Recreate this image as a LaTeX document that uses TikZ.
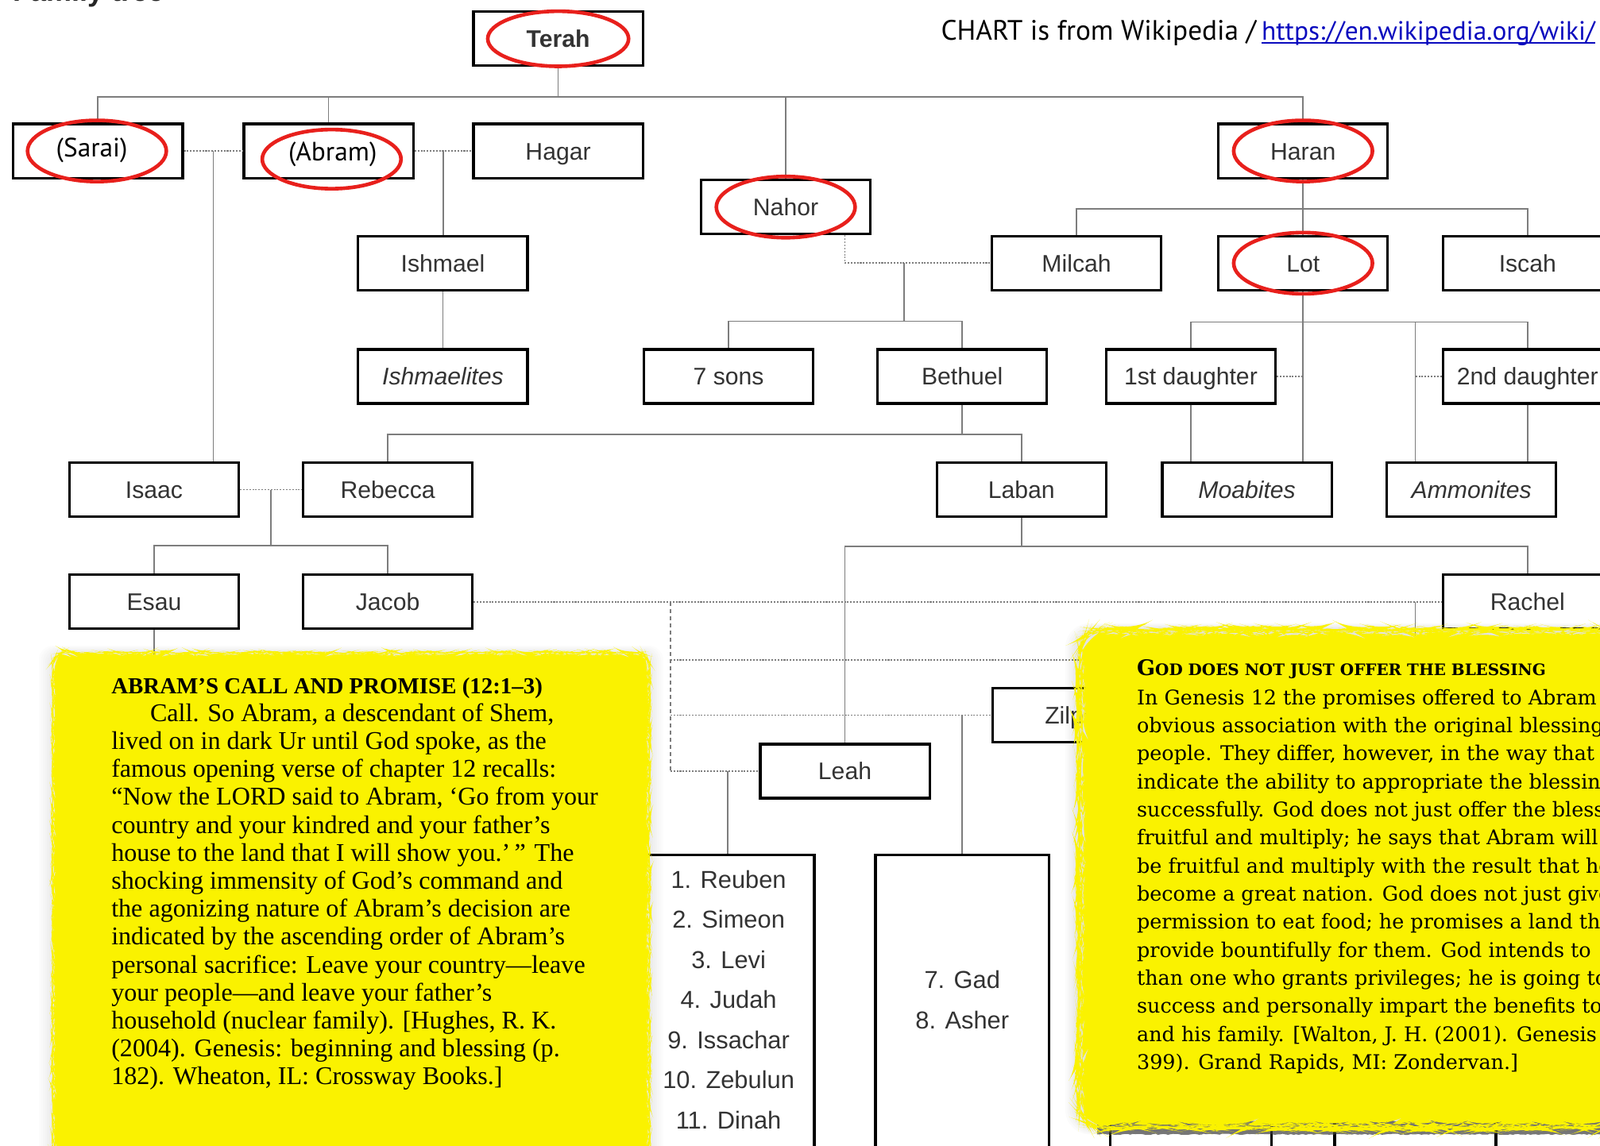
\documentclass[tikz,border=0pt]{standalone}
\usepackage{fontspec}
\setmainfont{Liberation Serif}
\newfontfamily\chartfont{Liberation Sans}
\newfontfamily\notefont{Liberation Serif}
\newfontfamily\widenotefont{DejaVu Serif}
\newfontfamily\webfont{PT Sans}
\usetikzlibrary{calc,decorations.pathmorphing}

\definecolor{markred}{RGB}{232,32,28}
\definecolor{noteyellow}{RGB}{250,242,0}
\definecolor{linkblue}{RGB}{10,10,190}
\definecolor{linegray}{RGB}{125,125,125}

\tikzset{
  person/.style={draw=black, line width=2.5pt, fill=white, minimum width=166pt, minimum height=53pt,
    inner sep=0pt, text height=17pt, text depth=0pt, text=black!80, font=\chartfont\fontsize{23.5}{28}\selectfont},
  tribe/.style={font=\chartfont\itshape\fontsize{23.5}{28}\selectfont},
  sonname/.style={inner sep=0pt, text height=17.5pt, text depth=0pt, text=black!80, font=\chartfont\fontsize{24}{28}\selectfont},
  kin/.style={draw=linegray, line width=1.4pt},
  wed/.style={draw=linegray, line width=1.4pt, dash pattern=on 1.6pt off 1.4pt},
  wedlong/.style={draw=linegray, line width=1.4pt, dash pattern=on 4pt off 3pt},
  redring/.style={draw=markred, line width=3.6pt},
  torn/.style={decorate, decoration={random steps, segment length=2.5pt, amplitude=.6pt}},
}

\begin{document}
\begin{tikzpicture}[x=1pt, y=-1pt]
    \useasboundingbox (0,0) rectangle (1568,1123);
    \clip (0,0) rectangle (1568,1123);

    % titre coupé en haut
    \node[anchor=base west, inner sep=0pt, text=black!85, font=\chartfont\bfseries\fontsize{28}{30}\selectfont] (title) at (13,1) {Family tree};

    % Terah et ses enfants
    \node[person, font=\chartfont\bfseries\fontsize{23.5}{28}\selectfont] (terah) at (547,38) {Terah};
    \node[person] (sarai) at (96,148) {};
    \node[person] (abram) at (322,148) {};
    \node[person] (hagar) at (547,148) {Hagar};
    \node[person] (nahor) at (770,203) {Nahor};
    \node[person] (haran) at (1277,148) {Haran};

    \node[person] (ishmael) at (434,258) {Ishmael};
    \node[person] (milcah) at (1055,258) {Milcah};
    \node[person] (lot) at (1277,258) {Lot};
    \node[person] (iscah) at (1497,258) {Iscah};

    \node[person, tribe] (ishmaelites) at (434,369) {Ishmaelites};
    \node[person] (sevensons) at (714,369) {7 sons};
    \node[person] (bethuel) at (943,369) {Bethuel};
    \node[person] (daughterA) at (1167,369) {1st daughter};
    \node[person] (daughterB) at (1497,369) {2nd daughter};

    \node[person] (isaac) at (151,480) {Isaac};
    \node[person] (rebecca) at (380,480) {Rebecca};
    \node[person] (laban) at (1001,480) {Laban};
    \node[person, tribe] (moabites) at (1222,480) {Moabites};
    \node[person, tribe] (ammonites) at (1442,480) {Ammonites};

    \node[person] (esau) at (151,590) {Esau};
    \node[person] (jacob) at (380,590) {Jacob};
    \node[person] (rachel) at (1497,590) {Rachel};
    \node[person] (zilpah) at (1056,701) {Zilpah};
    \node[person] (leah) at (828,756) {Leah};

    % fils de Jacob
    \node[person, minimum width=168pt, minimum height=300pt] (leahsons) at (714,988) {};
    \node[person, minimum width=170pt, minimum height=300pt] (zilpahsons) at (943,988) {};
    \node[person, minimum width=158pt, minimum height=300pt] (bilhahsons) at (1167,988) {};
    \node[person, minimum width=158pt, minimum height=300pt] (rachelsons) at (1387,988) {};
    \foreach \k/\son in {0/1. Reuben, 1/2. Simeon, 2/3. Levi, 3/4. Judah, 4/9. Issachar, 5/10. Zebulun, 6/11. Dinah} {
        \node[sonname] (ls\k) at (714,862+39.3*\k) {\son};
    }
    \foreach \k/\son in {0/7. Gad, 1/8. Asher} {
        \node[sonname] (zs\k) at (943,960+40*\k) {\son};
    }

    % liens Terah
    \coordinate (tbar) at ($(terah.south)+(0,29)$);
    \draw[kin] (terah.south) -- (tbar);
    \draw[kin] (sarai.north) |- (tbar) -| (haran.north);
    \draw[kin] (abram.north) -- (abram.north |- tbar);
    \draw[kin] (nahor.north) -- (nahor.north |- tbar);

    % Abram, Sarai, Hagar
    \draw[wed] (sarai) -- (abram);
    \draw[wed] (abram) -- (hagar);
    \coordinate (sa) at ($(sarai.east)!.5!(abram.west)$);
    \coordinate (ah) at ($(abram.east)!.5!(hagar.west)$);
    \draw[kin] (sa) -- (sa |- isaac.north);
    \draw[kin] (ah) -- (ah |- ishmael.north);
    \draw[kin] (ishmael) -- (ishmaelites);

    % Nahor et Milcah
    \draw[wed] ([xshift=58pt]nahor.south) |- (milcah.west);
    \coordinate (nm) at (886,258);
    \coordinate (nbar) at (886,315);
    \draw[kin] (nm) -- (nbar);
    \draw[kin] (sevensons.north) |- (nbar) -| (bethuel.north);

    % Haran
    \draw[kin] (haran) -- (lot);
    \coordinate (hbar) at ($(haran.south)+(0,29)$);
    \draw[kin] (milcah.north) |- (hbar) -| (iscah.north);

    % Lot et ses filles
    \coordinate (lbar) at ($(lot.south)+(0,30)$);
    \coordinate (lam) at (1387,315);
    \draw[kin] (daughterA.north) |- (lbar) -| (daughterB.north);
    \draw[kin] (lot.south) -- (lot.south |- moabites.north);
    \draw[kin] (lam) -- (lam |- ammonites.north);
    \draw[wed] (daughterA.east) -- (daughterA.east -| lot.south);
    \draw[wed] (daughterB.west) -- (daughterB.west -| lam);
    \draw[kin] (daughterA.south) -- (daughterA.south |- moabites.north);
    \draw[kin] (daughterB.south) -- (daughterB.south |- ammonites.north);

    % Bethuel
    \coordinate (bbar) at ($(bethuel.south)+(0,29)$);
    \draw[kin] (bethuel.south) -- (bbar);
    \draw[kin] (rebecca.north) |- (bbar) -| (laban.north);

    % Isaac et Rebecca
    \draw[wed] (isaac) -- (rebecca);
    \coordinate (ir) at ($(isaac.east)!.5!(rebecca.west)$);
    \coordinate (irbar) at ($(ir)+(0,55)$);
    \draw[kin] (ir) -- (irbar);
    \draw[kin] (esau.north) |- (irbar) -| (jacob.north);
    \draw[kin] (esau.south) -- ++(0,40);

    % Laban
    \coordinate (lbbar) at ($(laban.south)+(0,28)$);
    \draw[kin] (laban.south) -- (lbbar);
    \draw[kin] (leah.north) |- (lbbar) -| (rachel.north);

    % femmes de Jacob
    \draw[wed] (jacob) -- (rachel);
    \coordinate (jw) at (657,590);
    \coordinate (bilhah) at (1140,647);
    \draw[wedlong] (jw) -- (jw |- leah.west);
    \draw[wed] (jw |- bilhah) -- (bilhah);
    \draw[wed] (jw |- zilpah.west) -- (zilpah.west);
    \draw[wed] (jw |- leah.west) -- (leah.west);
    \coordinate (jl) at (713,756);
    \coordinate (jz) at (943,701);
    \coordinate (jr) at (1387,590);
    \draw[kin] (jl) -- (jl |- leahsons.north);
    \draw[kin] (jz) -- (jz |- zilpahsons.north);
    \draw[kin] (jr) -- ++(0,60);

    % notes jaunes, avec ombre douce
    \foreach \d in {2,4,...,14} {
        \fill[black, opacity=.012, rounded corners=14pt] (52-\d,640-\d/2) rectangle (636+\d,1140);
        \fill[black, opacity=.014, rounded corners=24pt] (1058-\d,618-\d/2) rectangle (1590,1105+\d/2);
    }
    \fill[noteyellow, rounded corners=12pt, torn] (52,1140) -- (52,640) -- (636,640) -- (636,1140) -- cycle;
    \fill[black!75, opacity=.7, torn] (1075,1099) rectangle (1580,1112);
    \fill[noteyellow, rounded corners=22pt, torn] (1058,1105) -- (1058,618) -- (1590,618) -- (1590,1105) -- cycle;

    \node[anchor=north west, inner sep=0pt, align=left, font=\notefont\fontsize{25}{27.4}\selectfont] (callnote) at (109,664) {%
        {\bfseries\fontsize{22.5}{27.4}\selectfont ABRAM’S CALL AND PROMISE (12:1–3)}\\
        \hspace*{38pt}Call. So Abram, a descendant of Shem,\\
        lived on in dark Ur until God spoke, as the\\
        famous opening verse of chapter 12 recalls:\\
        “Now the LORD said to Abram, ‘Go from your\\
        country and your kindred and your father’s\\
        house to the land that I will show you.’\,” The\\
        shocking immensity of God’s command and\\
        the agonizing nature of Abram’s decision are\\
        indicated by the ascending order of Abram’s\\
        personal sacrifice: Leave your country—leave\\
        your people—and leave your father’s\\
        household (nuclear family). [Hughes, R. K.\\
        (2004). Genesis: beginning and blessing (p.\\
        182). Wheaton, IL: Crossway Books.]};

    \node[anchor=north west, inner sep=0pt, align=left, font=\widenotefont\fontsize{19.8}{27.5}\selectfont] (blessnote) at (1114,646) {%
        {\bfseries\fontsize{21}{27.5}\selectfont G\fontsize{15.5}{27.5}\selectfont OD DOES NOT JUST OFFER THE BLESSING}\\[1.5pt]
        In Genesis 12 the promises offered to Abram\\
        obvious association with the original blessing\\
        people. They differ, however, in the way that\\
        indicate the ability to appropriate the blessing\\
        successfully. God does not just offer the blessing\\
        fruitful and multiply; he says that Abram will\\
        be fruitful and multiply with the result that he\\
        become a great nation. God does not just give\\
        permission to eat food; he promises a land that\\
        provide bountifully for them. God intends to\\
        than one who grants privileges; he is going to\\
        success and personally impart the benefits to\\
        and his family. [Walton, J. H. (2001). Genesis\\
        399). Grand Rapids, MI: Zondervan.]};

    % noms ajoutés et cercles rouges
    \node[fill=white, inner xsep=6pt, inner ysep=8pt, font=\webfont\fontsize{26}{30}\selectfont] (sarailabel) at (90,147) {(Sarai)};
    \node[fill=white, inner xsep=6pt, inner ysep=8pt, font=\webfont\fontsize{26}{30}\selectfont] (abramlabel) at (326,151) {(Abram)};
    \draw[redring] (terah.center) ellipse [x radius=69pt, y radius=27pt];
    \draw[redring] ($(sarai)+(-1,0)$) ellipse [x radius=68pt, y radius=30pt];
    \draw[redring] ($(abram)+(3,8)$) ellipse [x radius=68pt, y radius=29pt];
    \draw[redring] (nahor.center) ellipse [x radius=68pt, y radius=30pt];
    \draw[redring] (haran.center) ellipse [x radius=68pt, y radius=30pt];
    \draw[redring] (lot.center) ellipse [x radius=68pt, y radius=30pt];

    % source
    \node[anchor=base west, inner sep=0pt, font=\webfont\fontsize{27.5}{30}\selectfont] (credit) at (922,39) {CHART is from Wikipedia /};
    \node[anchor=base west, inner sep=0pt, text=linkblue, font=\webfont\fontsize{26}{30}\selectfont] (url) at ([xshift=5pt]credit.base east) {https://en.wikipedia.org/wiki/};
    \draw[linkblue, line width=1.6pt] ([yshift=-3pt]url.base west) -- ([yshift=-3pt]url.base east);
\end{tikzpicture}
\end{document}
